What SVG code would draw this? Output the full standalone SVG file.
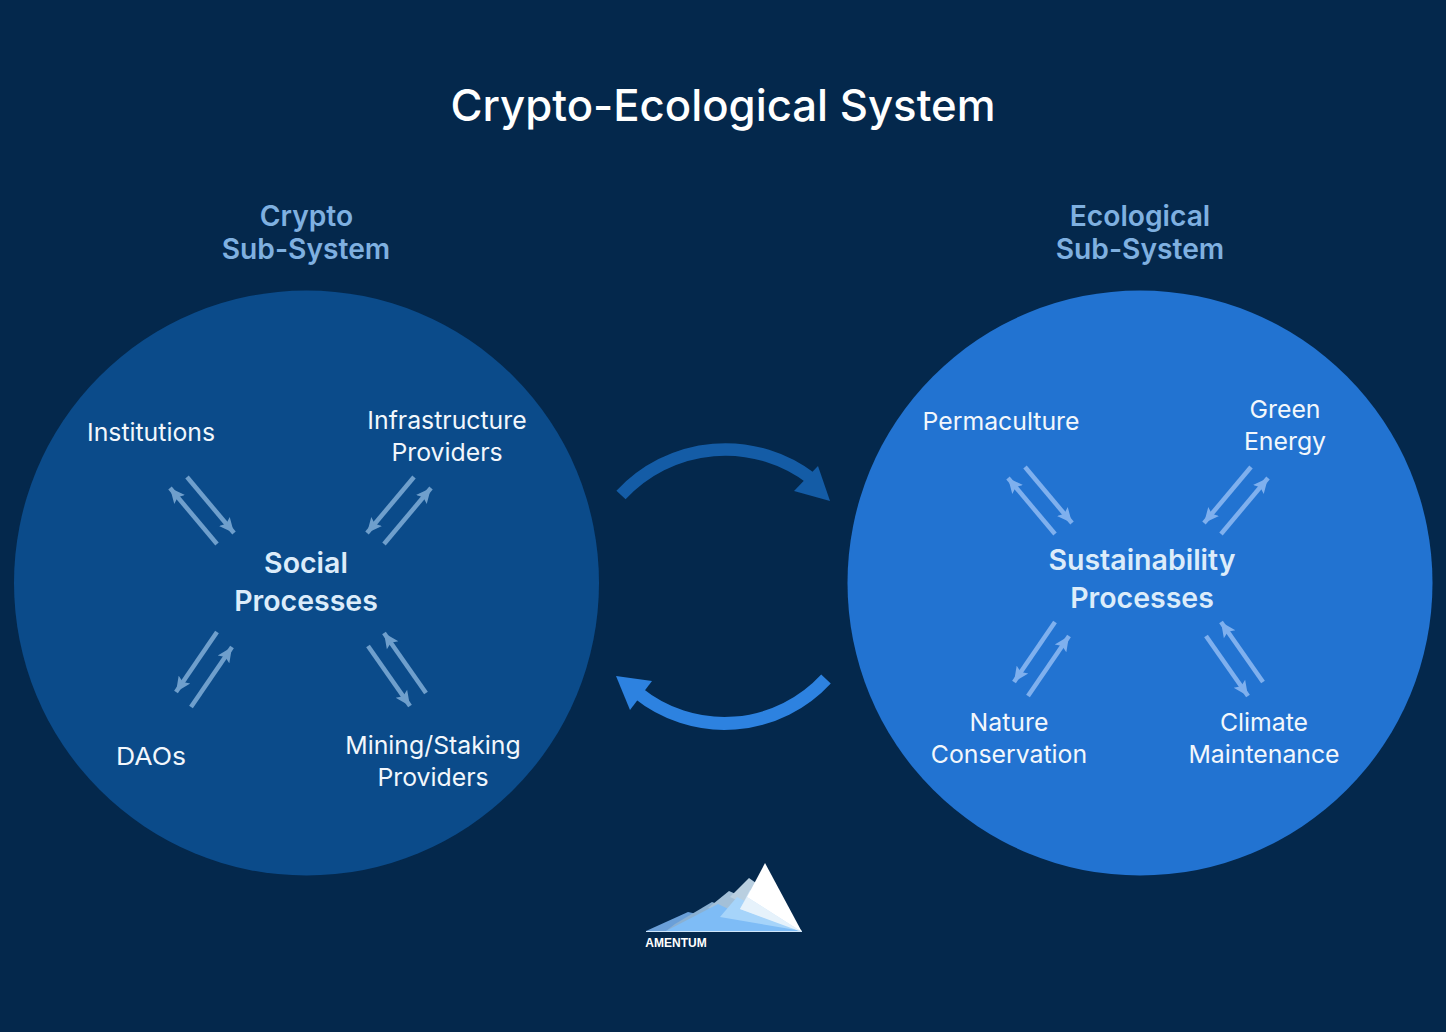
<svg xmlns="http://www.w3.org/2000/svg" width="1446" height="1032" viewBox="0 0 1446 1032">
<defs>
<style>
text{font-family:"Inter","Open Sans","Liberation Sans",sans-serif;text-anchor:middle}
.t{fill:#f2f7fc;font-size:24.8px}
.h{fill:#7fb0e0;font-size:28.200px;font-weight:600}
.c{fill:#dcecfa;font-size:28.5px;font-weight:600}
.a{stroke:#6f9fcc;stroke-width:4.500;fill:none;marker-end:url(#m)}
.b{stroke:#7fb0ee;stroke-width:4.500;fill:none;marker-end:url(#n)}
</style>
<marker id="m" markerUnits="userSpaceOnUse" markerWidth="16" markerHeight="16" refX="15" refY="8" orient="auto"><path d="M0 1L15 8L0 15L3 8Z" fill="#6f9fcc"/></marker>
<marker id="n" markerUnits="userSpaceOnUse" markerWidth="16" markerHeight="16" refX="15" refY="8" orient="auto"><path d="M0 1L15 8L0 15L3 8Z" fill="#7fb0ee"/></marker>
</defs>
<rect width="1446" height="1032" fill="#04284c"/>
<text x="723" y="121" fill="#fff" style="font-size:43.700px;font-weight:500">Crypto-Ecological System</text>
<g id="crypto-title"><text class="h" x="306.500" y="226">Crypto</text><text class="h" x="306" y="259">Sub-System</text></g>
<g id="eco-title"><text class="h" x="1140" y="226">Ecological</text><text class="h" x="1140" y="259">Sub-System</text></g>
<g id="crypto-circle"><circle cx="306.500" cy="583" r="292.500" fill="#0b4b8a"/></g>
<g id="eco-circle"><circle cx="1140" cy="583" r="292.500" fill="#2273d1"/></g>
<g id="institutions"><text class="t" x="151" y="441">Institutions</text></g>
<g id="infrastructure"><text class="t" x="447" y="429">Infrastructure</text><text class="t" x="447" y="461">Providers</text></g>
<g id="social"><text class="c" x="306" y="573">Social</text><text class="c" x="306" y="611">Processes</text></g>
<g id="daos"><text class="t" x="151" y="765" textLength="70" lengthAdjust="spacingAndGlyphs">DAOs</text></g>
<g id="mining"><text class="t" x="433" y="754">Mining/Staking</text><text class="t" x="433" y="786">Providers</text></g>
<g id="permaculture"><text class="t" x="1001" y="430">Permaculture</text></g>
<g id="green"><text class="t" x="1285" y="418">Green</text><text class="t" x="1285" y="450">Energy</text></g>
<g id="sustainability"><text class="c" x="1142" y="570">Sustainability</text><text class="c" x="1142" y="608">Processes</text></g>
<g id="nature"><text class="t" x="1009" y="731">Nature</text><text class="t" x="1009" y="763">Conservation</text></g>
<g id="climate"><text class="t" x="1264" y="731">Climate</text><text class="t" x="1264" y="763">Maintenance</text></g>
<g id="connectors">
<path class="a" d="M187 477L234 533"/><path class="a" d="M217 544L170 488"/>
<path class="a" d="M414 477L367 533"/><path class="a" d="M384 544L431 488"/>
<path class="a" d="M217 632L176 692"/><path class="a" d="M191 707L232 647"/>
<path class="a" d="M368 646L410 706"/><path class="a" d="M426 693L384 633"/>
<path class="b" d="M1025 467L1072 523"/><path class="b" d="M1055 534L1008 478"/>
<path class="b" d="M1251 467L1204 523"/><path class="b" d="M1221 534L1268 478"/>
<path class="b" d="M1055 622L1014 682"/><path class="b" d="M1028 696L1069 636"/>
<path class="b" d="M1206 636L1248 696"/><path class="b" d="M1263 682L1221 622"/>
<path d="M621 495A142 142 0 0 1 812 479" fill="none" stroke="#145ca6" stroke-width="12.500"/>
<path d="M830 501L794 491L818 466Z" fill="#145ca6"/>
<path d="M826 679A138 138 0 0 1 638 693" fill="none" stroke="#2d82e0" stroke-width="13"/>
<path d="M616 676L652 681L630 710Z" fill="#2d82e0"/>
</g>
<g id="logo">
<path d="M646 931L688 912L697 914L720 931Z" fill="#6a9fd8"/>
<path d="M675 924L712 902L720 905L760 931H666Z" fill="#8ab0d2"/>
<path d="M708 908L729 891L738 895L775 925Z" fill="#a3c0d8"/>
<path d="M730 897L749 878L756 883L770 915Z" fill="#b9cfe0"/>
<path d="M666 931L718 904L745 917L802 931Z" fill="#7ebcf6"/>
<path d="M720 917L737 897L802 931Z" fill="#a6d4fa"/>
<path d="M740 909L750 890L802 931Z" fill="#cfe6fa"/>
<path d="M747 897L765 863L802 932Z" fill="#fff"/>
<path d="M740 909L747 897L802 932Z" fill="#e6f2fb"/>
<path d="M646 931H802V932H646Z" fill="#cfe6fa"/>
<text x="676" y="947" fill="#fff" style="font-size:12px;font-weight:700;font-family:'Liberation Sans',sans-serif">AMENTUM</text>
</g>
</svg>
